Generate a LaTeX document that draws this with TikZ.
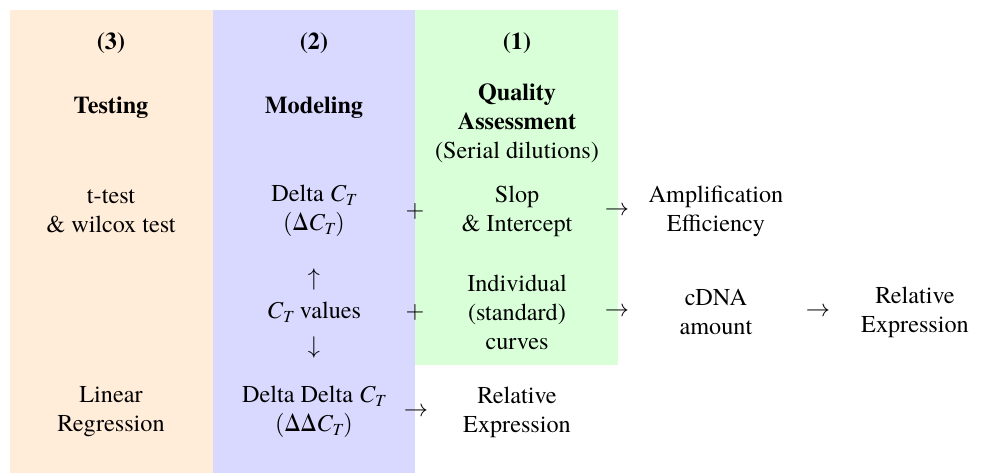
\documentclass[tikz,border=0pt]{standalone}
\usepackage{fontspec}
\setmainfont{texgyretermes}[Extension=.otf, UprightFont=*-regular, BoldFont=*-bold, ItalicFont=*-italic, BoldItalicFont=*-bolditalic]
\newcommand{\ct}{\mathit{C}_{\mathit{T}}}
\newcommand{\dlt}{\textup{Δ}}
\usetikzlibrary{positioning}

\begin{document}
\begin{tikzpicture}[
      txt/.style={align=center, inner sep=0pt},
      head/.style={txt, font=\bfseries},
      sym/.style={inner sep=0pt},
      ]
      \useasboundingbox (0,0) rectangle (14.288,-6.868);
      \fill[orange!15] (0.145,-0.145) rectangle (3.093,-6.868);
      \fill[blue!15] (3.093,-0.145) rectangle (6.026,-6.868);
      \fill[green!15] (6.026,-0.145) rectangle (8.973,-5.300);

      \node[head] (NT) at (1.612,-0.632) {(3)};
      \node[head] (NM) at (4.559,-0.632) {(2)};
      \node[head] (NQ) at (7.507,-0.632) {(1)};

      \node[head] (TS) at (1.612,-1.568) {Testing};
      \node[head] (MO) at (4.559,-1.568) {Modeling};
      \node[txt] (QA) at (7.507,-1.793) {\textbf{Quality}\\\textbf{Assessment}\\(Serial dilutions)};

      \node[txt] (TT) at (1.612,-3.064) {t-test\\\& wilcox test};
      \node[txt] (DC) at (4.559,-3.064) {Delta $\ct$\\$(\dlt\ct)$};
      \node[sym] (P1) at (6.026,-3.064) {$+$};
      \node[txt] (SI) at (7.507,-3.064) {Slop\\\& Intercept};
      \node[sym] (A1) at (8.959,-3.064) {$\rightarrow$};
      \node[txt] (AE) at (10.396,-3.064) {Amplification\\Efficiency};

      \node[sym] (UP) at (4.559,-4.051) {$\uparrow$};
      \node[txt] (CV) at (4.559,-4.530) {$\ct$ values};
      \node[sym] (P2) at (6.026,-4.530) {$+$};
      \node[txt] (IC) at (7.507,-4.530) {Individual\\(standard)\\curves};
      \node[sym] (A2) at (8.959,-4.530) {$\rightarrow$};
      \node[txt] (CA) at (10.396,-4.530) {cDNA\\amount};
      \node[sym] (A3) at (11.877,-4.530) {$\rightarrow$};
      \node[txt] (RE) at (13.286,-4.530) {Relative\\Expression};
      \node[sym] (DN) at (4.559,-5.038) {$\downarrow$};

      \node[txt] (LR) at (1.612,-5.982) {Linear\\Regression};
      \node[txt] (DD) at (4.559,-5.982) {Delta Delta $\ct$\\$(\dlt\dlt\ct)$};
      \node[sym] (A4) at (6.040,-5.982) {$\rightarrow$};
      \node[txt] (RB) at (7.507,-5.982) {Relative\\Expression};
\end{tikzpicture}
\end{document}
